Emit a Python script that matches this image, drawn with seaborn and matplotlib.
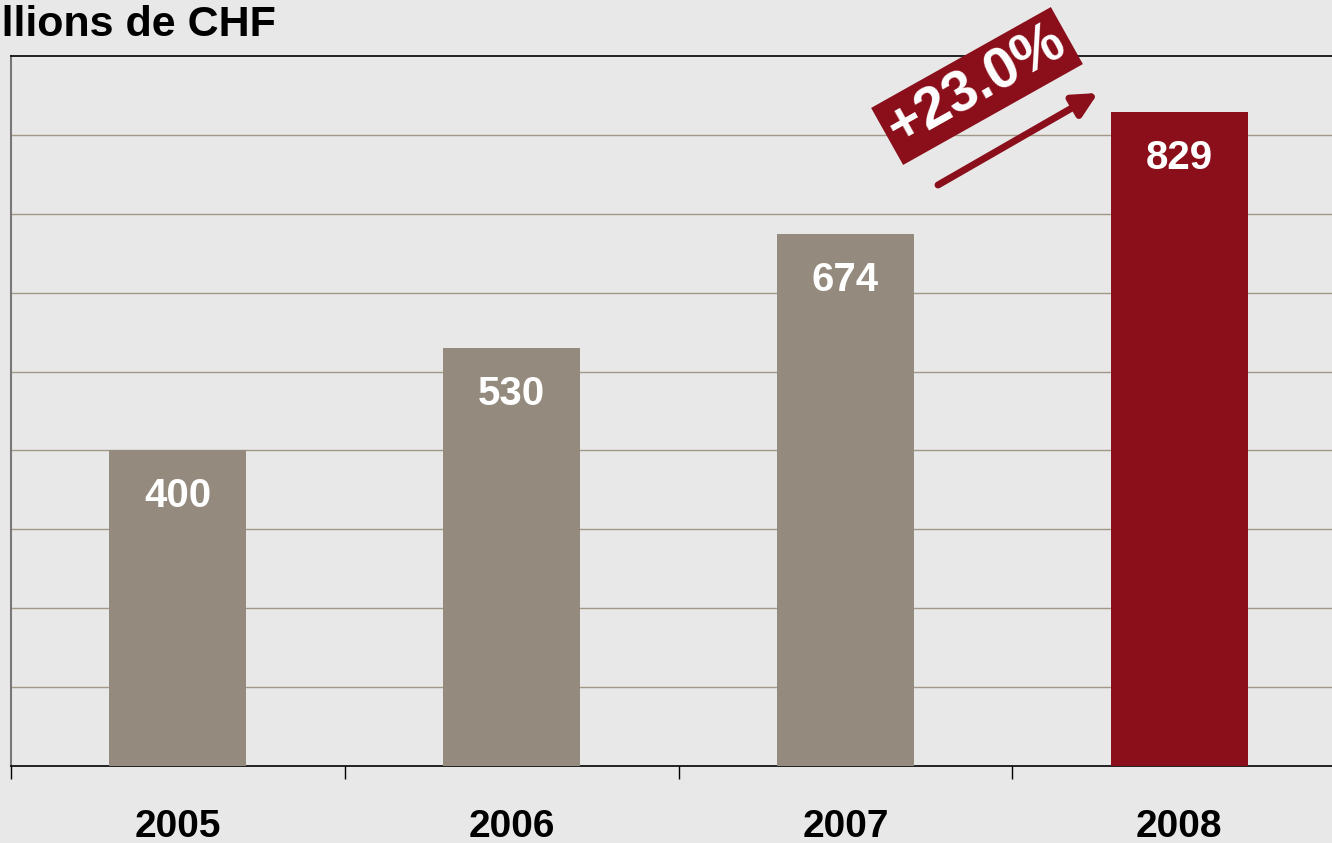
import matplotlib
matplotlib.use("Agg")
import matplotlib.pyplot as plt
import seaborn as sns
import pandas as pd

years = ["2005", "2006", "2007", "2008"]
values = [400, 530, 674, 829]
bar_colors = ["#948a7e", "#948a7e", "#948a7e", "#8a0f1b"]
title = "Millions de CHF"
growth_label = "+23.0%"
grid_values = [100, 200, 300, 400, 500, 600, 700, 800]

sns.set_theme(style="white")
plt.rcParams["font.family"] = ["Liberation Sans", "DejaVu Sans"]

BG = "#e8e8e8"
fig = plt.figure(figsize=(13.32, 8.43), dpi=100, facecolor=BG)
W, H = 1332, 843
ax = fig.add_axes([11 / W, 77 / H, 1335 / W, 710 / H])
ax.set_facecolor(BG)

df = pd.DataFrame({"year": years, "value": values})
sns.barplot(data=df, x="year", y="value", hue="year", palette=bar_colors,
            width=0.41, legend=False, ax=ax, saturation=1, zorder=3,
            edgecolor="none", linewidth=0)

ax.set_xlim(-0.5, 3.5)
ax.set_ylim(0, 900)
for g in grid_values:
    ax.axhline(g, color="#a39888", lw=1.0, zorder=1)

ax.set_xlabel("")
ax.set_ylabel("")
ax.set_yticks([])
ax.set_xticks(range(len(years)))
ax.set_xticklabels(years, fontsize=28, fontweight="bold", color="black")
ax.tick_params(axis="x", which="major", length=0, pad=31, bottom=True)
ax.set_xticks([i - 0.5 for i in range(len(years) + 1)], minor=True)
ax.tick_params(axis="x", which="minor", length=9, width=1.0, color="black",
               direction="out", bottom=True)

for s in ["top", "bottom", "right"]:
    ax.spines[s].set_color("black")
    ax.spines[s].set_linewidth(1.2)
    ax.spines[s].set_visible(True)
ax.spines["left"].set_color("#777777")
ax.spines["left"].set_linewidth(1.5)
ax.spines["left"].set_visible(True)

for i, v in enumerate(values):
    ax.annotate(str(v), xy=(i, v), xytext=(0, -46), textcoords="offset pixels",
                ha="center", va="center", fontsize=29, fontweight="bold",
                color="white", zorder=5)

fig.text(-46 / W, 1 - 25 / H, title, fontsize=31, fontweight="bold",
         color="black", ha="left", va="center")

# growth badge
fig.text(977 / W, 1 - 86 / H, growth_label, fontsize=41, fontweight="bold",
         color="white", ha="center", va="center", rotation=29.3,
         rotation_mode="anchor",
         bbox=dict(boxstyle="square,pad=0.1", fc="#8a0f1b", ec="none"))

ax.annotate("", xy=(1098, H - 93), xycoords="figure pixels",
            xytext=(938, H - 185), textcoords="figure pixels",
            arrowprops=dict(arrowstyle="-|>,head_length=1.2,head_width=0.6",
                            lw=5, color="#8a0f1b", shrinkA=0, shrinkB=0))

fig.savefig("out.png", dpi=100, facecolor=BG)
